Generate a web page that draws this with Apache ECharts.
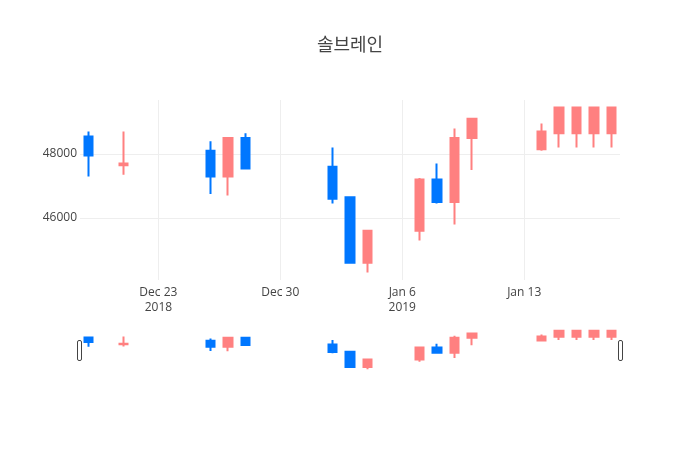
<!DOCTYPE html>
<html>
<head>
<meta charset="utf-8">
<script src="https://cdn.jsdelivr.net/npm/echarts@6/dist/echarts.min.js"></script>
<style>
html, body { margin: 0; padding: 0; background: #fff; }
#chart { width: 700px; height: 450px; }
</style>
</head>
<body>
<div id="chart"></div>
<script>
// 일별 시세 (open / close / low / high)
var dates = ['2018-12-19', '2018-12-21', '2018-12-26', '2018-12-27', '2018-12-28',
  '2019-01-02', '2019-01-03', '2019-01-04', '2019-01-07', '2019-01-08', '2019-01-09',
  '2019-01-10', '2019-01-14', '2019-01-15', '2019-01-16', '2019-01-17', '2019-01-18'];
var opens  = [48550, 47650, 48100, 47300, 48500, 47600, 46650, 44600, 45600, 47200, 46500, 48500, 48150, 48650, 48650, 48650, 48650];
var closes = [47950, 47700, 47300, 48500, 47550, 46600, 44600, 45600, 47200, 46500, 48500, 49100, 48700, 49450, 49450, 49450, 49450];
var lows   = [47300, 47350, 46750, 46700, 47550, 46450, 44600, 44300, 45300, 46450, 45800, 47500, 48100, 48200, 48200, 48200, 48200];
var highs  = [48700, 48700, 48400, 48500, 48650, 48200, 46650, 45600, 47250, 47700, 48800, 49100, 48950, 49450, 49450, 49450, 49450];

var xTickDates = ['2018-12-23', '2018-12-30', '2019-01-06', '2019-01-13'];
var xTickLabels = ['Dec 23\n2018', 'Dec 30', 'Jan 6\n2019', 'Jan 13'];
var yTicks = [46000, 48000];

function ts(s) {
  var p = s.split('-');
  return new Date(+p[0], +p[1] - 1, +p[2]).getTime();
}
var halfDay = 12 * 3600 * 1000;
var xMin = ts('2018-12-18') + halfDay;
var xMax = ts('2019-01-18') + halfDay;
var yMin = 44062, yMax = 49688;

var candles = dates.map(function (d, i) {
  return [ts(d), opens[i], closes[i], lows[i], highs[i]];
});
var xTickVals = xTickDates.map(ts);
var labelMap = {};
xTickVals.forEach(function (v, i) { labelMap[v] = xTickLabels[i]; });

var upColor = '#FF8080', downColor = '#0077FF';
var font = '"Open Sans", "Noto Sans CJK KR", sans-serif';

var candleStyle = {
  color: upColor, color0: downColor,
  borderColor: upColor, borderColor0: downColor,
  borderWidth: 2
};

var chart = echarts.init(document.getElementById('chart'));
var option = {
  animation: false,
  title: {
    text: '솔브레인',
    left: 'center',
    top: 32,
    textStyle: { color: '#444', fontSize: 18, fontWeight: 'normal', fontFamily: font }
  },
  grid: [
    { left: 80, right: 80, top: 100, height: 180 },
    { left: 80, right: 80, top: 329, height: 42 }
  ],
  xAxis: [
    {
      type: 'value', gridIndex: 0, min: xMin, max: xMax, scale: true,
      axisLine: { show: false },
      axisTick: { show: false, customValues: xTickVals },
      axisLabel: {
        customValues: xTickVals,
        color: '#444', fontSize: 12, fontFamily: font,
        lineHeight: 15, margin: 5,
        formatter: function (v) { return labelMap[v] || ''; }
      },
      splitLine: { show: true, lineStyle: { color: '#eee', width: 1 } }
    },
    {
      type: 'value', gridIndex: 1, min: xMin, max: xMax, scale: true,
      axisLine: { show: false }, axisTick: { show: false },
      axisLabel: { show: false }, splitLine: { show: false }
    }
  ],
  yAxis: [
    {
      type: 'value', gridIndex: 0, min: yMin, max: yMax, scale: true,
      axisLine: { show: false },
      axisTick: { show: false, customValues: yTicks },
      axisLabel: {
        customValues: yTicks,
        color: '#444', fontSize: 12, fontFamily: font, margin: 3,
        formatter: function (v) { return String(v); }
      },
      splitLine: { show: true, lineStyle: { color: '#eee', width: 1 } }
    },
    {
      type: 'value', gridIndex: 1, min: yMin, max: yMax, scale: true,
      axisLine: { show: false }, axisTick: { show: false },
      axisLabel: { show: false }, splitLine: { show: false }
    }
  ],
  series: [
    {
      type: 'candlestick', xAxisIndex: 0, yAxisIndex: 0,
      barWidth: 9,
      encode: { x: 0, y: [1, 2, 3, 4] },
      itemStyle: candleStyle,
      data: candles
    },
    {
      type: 'candlestick', xAxisIndex: 1, yAxisIndex: 1,
      barWidth: 9,
      encode: { x: 0, y: [1, 2, 3, 4] },
      itemStyle: candleStyle,
      silent: true,
      data: candles
    }
  ],
  // 레인지 슬라이더 손잡이
  graphic: [
    { type: 'rect', left: 77, top: 340, shape: { width: 4, height: 20, r: 1.5 },
      style: { fill: '#fff', stroke: '#444', lineWidth: 1 } },
    { type: 'rect', left: 618, top: 340, shape: { width: 4, height: 20, r: 1.5 },
      style: { fill: '#fff', stroke: '#444', lineWidth: 1 } }
  ]
};
chart.setOption(option);
</script>
</body>
</html>
